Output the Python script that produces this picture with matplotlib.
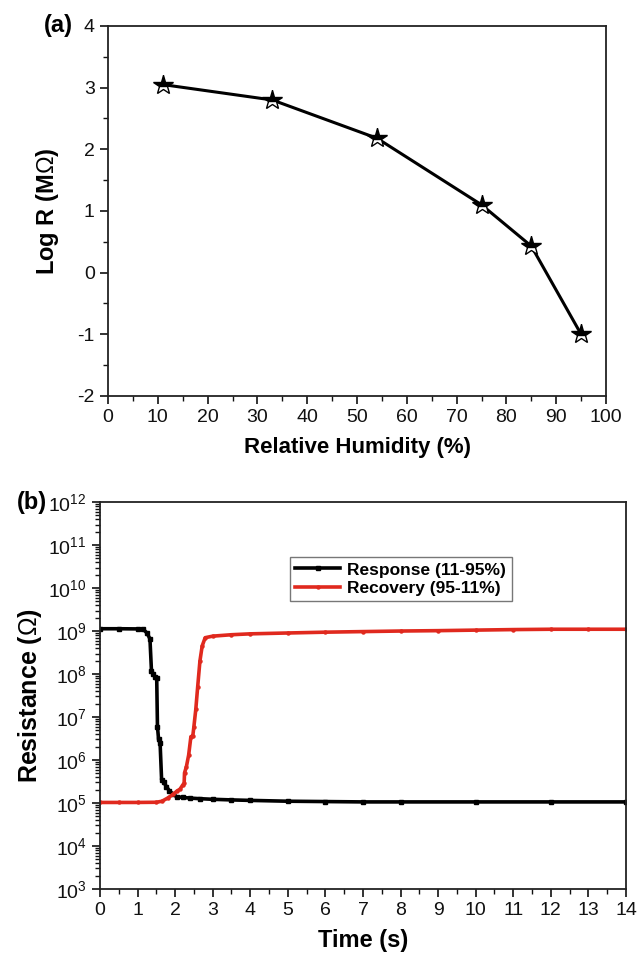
import matplotlib
matplotlib.use('Agg')
import matplotlib.pyplot as plt
from matplotlib.ticker import MultipleLocator, NullFormatter

plt.rcParams['font.family'] = ['Liberation Sans', 'DejaVu Sans']
plt.rcParams['mathtext.fontset'] = 'custom'
plt.rcParams['mathtext.rm'] = 'Liberation Sans'
plt.rcParams['mathtext.it'] = 'Liberation Sans:italic'
plt.rcParams['mathtext.bf'] = 'Liberation Sans:bold'
plt.rcParams['axes.unicode_minus'] = False

# (a) log resistance vs humidity
rh = [11, 33, 54, 75, 85, 95]
log_r = [3.05, 2.8, 2.18, 1.1, 0.43, -1.0]

# (b) response / recovery curves
t_resp = [0.0, 0.5, 1.0, 1.15, 1.25, 1.33, 1.37, 1.42, 1.47, 1.51, 1.53, 1.56,
          1.60, 1.64, 1.70, 1.77, 1.85, 1.95, 2.04, 2.2, 2.4, 2.66, 3.0, 3.5,
          4.0, 5.0, 6.0, 7.0, 8.0, 10.0, 12.0, 14.0]
r_resp = [1.13e9, 1.13e9, 1.12e9, 1.1e9, 9.0e8, 6.6e8, 1.2e8, 1.0e8, 8.5e7,
          8.0e7, 6.0e6, 3.0e6, 2.5e6, 3.5e5, 3.0e5, 2.4e5, 1.9e5, 1.6e5,
          1.4e5, 1.35e5, 1.3e5, 1.26e5, 1.22e5, 1.18e5, 1.15e5, 1.1e5,
          1.08e5, 1.06e5, 1.06e5, 1.06e5, 1.06e5, 1.06e5]
t_rec = [0.0, 0.5, 1.0, 1.5, 1.65, 1.8, 1.95, 2.05, 2.13, 2.2, 2.24, 2.25,
         2.3, 2.36, 2.42, 2.47, 2.5, 2.55, 2.6, 2.66, 2.72, 2.8, 3.0, 3.5,
         4.0, 5.0, 6.0, 7.0, 8.0, 9.0, 10.0, 11.0, 12.0, 13.0, 14.0]
r_rec = [1.03e5, 1.03e5, 1.03e5, 1.04e5, 1.1e5, 1.3e5, 1.6e5, 1.9e5, 2.1e5,
         2.6e5, 2.9e5, 5.0e5, 7.0e5, 1.3e6, 3.5e6, 3.6e6, 6.0e6, 1.5e7,
         5.0e7, 2.0e8, 4.5e8, 7.0e8, 7.6e8, 8.2e8, 8.6e8, 9.0e8, 9.4e8,
         9.7e8, 1.0e9, 1.02e9, 1.05e9, 1.08e9, 1.1e9, 1.1e9, 1.1e9]

fig = plt.figure(figsize=(6.38, 9.59), dpi=100)

# ---- panel (a)
ax1 = fig.add_axes([0.1693, 0.5871, 0.7806, 0.3858])
ax1.plot(rh, log_r, color='black', lw=2.2, marker='*', ms=15,
         fillstyle='top', mfc='black', mfcalt='white', mec='black', mew=1.0)
ax1.set_xlim(0, 100)
ax1.set_ylim(-2, 4)
ax1.xaxis.set_major_locator(MultipleLocator(10))
ax1.xaxis.set_minor_locator(MultipleLocator(5))
ax1.yaxis.set_major_locator(MultipleLocator(1))
ax1.yaxis.set_minor_locator(MultipleLocator(0.5))
ax1.set_xlabel('Relative Humidity (%)', fontsize=16, fontweight='bold', labelpad=8)
ax1.set_ylabel('Log R (M$\\Omega$)', fontsize=17, fontweight='bold', labelpad=12)
ax1.text(-0.1, 1.0, '(a)', transform=ax1.transAxes, fontsize=17,
         fontweight='bold', ha='center', va='center')

# ---- panel (b)
ax2 = fig.add_axes([0.1567, 0.0730, 0.8245, 0.4035])
ax2.plot(t_resp, r_resp, color='black', lw=2.6, marker='s', ms=2.2,
         label='Response (11-95%)')
ax2.plot(t_rec, r_rec, color='#e0291e', lw=2.6, marker='o', ms=2.2,
         label='Recovery (95-11%)')
ax2.set_yscale('log')
ax2.set_xlim(0, 14)
ax2.set_ylim(1e3, 1e12)
ax2.xaxis.set_major_locator(MultipleLocator(1))
ax2.xaxis.set_minor_locator(MultipleLocator(0.5))
ax2.set_yticks([10.0 ** e for e in range(3, 13)])
ax2.set_yticks([m * 10.0 ** e for e in range(3, 12) for m in range(2, 10)], minor=True)
ax2.yaxis.set_minor_formatter(NullFormatter())
ax2.set_xlabel('Time (s)', fontsize=17, fontweight='bold', labelpad=7)
ax2.set_ylabel('Resistance ($\\Omega$)', fontsize=18, fontweight='bold', labelpad=3)
ax2.text(-0.13, 1.0, '(b)', transform=ax2.transAxes, fontsize=17,
         fontweight='bold', ha='center', va='center')
leg = ax2.legend(loc='upper left', bbox_to_anchor=(0.345, 0.88),
                 prop={'weight': 'bold', 'size': 12.5}, frameon=True, fancybox=False,
                 edgecolor='#555555', handlelength=2.6, borderpad=0.3,
                 labelspacing=0.2, handletextpad=0.4)
leg.get_frame().set_linewidth(1.0)

for ax in (ax1, ax2):
    for s in ax.spines.values():
        s.set_linewidth(1.3)
        s.set_color('#222222')
    ax.tick_params(which='both', direction='out', top=False, right=False,
                   labelsize=14, colors='#111111')
    ax.tick_params(which='major', length=6, width=1.2)
    ax.tick_params(which='minor', length=3.5, width=1.0)

fig.savefig('out.png', dpi=100)
